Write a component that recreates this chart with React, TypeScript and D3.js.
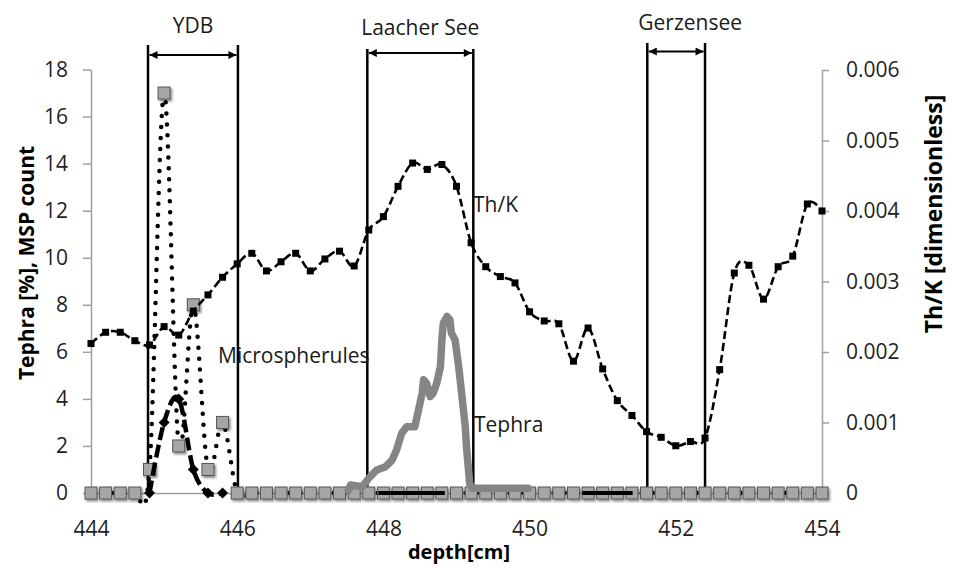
import React, { useEffect, useRef } from 'react';
import * as d3 from 'd3';

// sample depths [cm], one every 0.2 cm
const depths = [
  444.0, 444.2, 444.4, 444.6, 444.8, 445.0, 445.2, 445.4, 445.6, 445.8,
  446.0, 446.2, 446.4, 446.6, 446.8, 447.0, 447.2, 447.4, 447.6, 447.8,
  448.0, 448.2, 448.4, 448.6, 448.8, 449.0, 449.2, 449.4, 449.6, 449.8,
  450.0, 450.2, 450.4, 450.6, 450.8, 451.0, 451.2, 451.4, 451.6, 451.8,
  452.0, 452.2, 452.4, 452.6, 452.8, 453.0, 453.2, 453.4, 453.6, 453.8,
  454.0,
];

// microspherule count (grey squares, dotted line)
const mspCount = [
  0, 0, 0, 0, 1, 17, 2, 8, 1, 3,
  0, 0, 0, 0, 0, 0, 0, 0, 0, 0,
  0, 0, 0, 0, 0, 0, 0, 0, 0, 0,
  0, 0, 0, 0, 0, 0, 0, 0, 0, 0,
  0, 0, 0, 0, 0, 0, 0, 0, 0, 0,
  0,
];

// Th/K ratio (right axis)
const thk = [
  0.00212, 0.00228, 0.00228, 0.00216, 0.0021, 0.00236, 0.00224, 0.00258, 0.00281, 0.00306,
  0.00325, 0.0034, 0.00315, 0.00328, 0.0034, 0.00315, 0.00332, 0.00343, 0.00322, 0.00373,
  0.00392, 0.00435, 0.00468, 0.00459, 0.00466, 0.00435, 0.00355, 0.00321, 0.00307, 0.00298,
  0.00257, 0.00244, 0.0024, 0.00187, 0.00234, 0.00176, 0.00131, 0.0011, 0.00087, 0.00079,
  0.00067, 0.00073, 0.00078, 0.00175, 0.00312, 0.00323, 0.00275, 0.00321, 0.00336, 0.0041,
  0.004,
];

// second microspherule series (black diamonds, long dash)
const mspDiamondDepths = [444.8, 445.0, 445.2, 445.4, 445.6, 445.8];
const mspDiamond = [0, 3, 4, 1, 0, 0];

// tephra [%]
const tephraDepths = [
  447.52, 447.55, 447.71, 447.82, 447.91, 448.03, 448.12, 448.18, 448.25, 448.32,
  448.43, 448.48, 448.53, 448.55, 448.59, 448.64, 448.68, 448.73, 448.78, 448.8,
  448.82, 448.87, 448.91, 448.93, 448.98, 449.03, 449.07, 449.12, 449.14, 449.18,
  449.21, 449.5, 449.98,
];
const tephraPercent = [
  0.1, 0.34, 0.27, 0.7, 0.98, 1.12, 1.4, 1.83, 2.54, 2.82,
  2.82, 3.53, 4.24, 4.81, 4.67, 4.1, 4.24, 4.67, 5.37, 6.51,
  7.22, 7.5, 7.36, 6.8, 6.51, 5.37, 4.24, 2.82, 1.83, 0.41,
  0.2, 0.2, 0.2,
];

// event intervals
const eventNames = ['YDB', 'Laacher See', 'Gerzensee'];
const eventStart = [444.78, 447.78, 451.61];
const eventEnd = [446.01, 449.23, 452.4];

// black segments on the zero line
const baseSegStart = [447.93, 450.72];
const baseSegEnd = [448.84, 451.41];

const xTicks = [444, 446, 448, 450, 452, 454];
const leftTicks = [0, 2, 4, 6, 8, 10, 12, 14, 16, 18];
const rightTicks = [0, 0.001, 0.002, 0.003, 0.004, 0.005, 0.006];

const FONT = '"Open Sans", sans-serif';

export default function App() {
  const svgRef = useRef<SVGSVGElement | null>(null);

  const width = 957;
  const height = 568;

  useEffect(() => {
    const svg = d3.select(svgRef.current);
    svg.selectAll('*').remove();

    const x = d3.scaleLinear().domain([444, 454]).range([91, 822]);
    const yL = d3.scaleLinear().domain([0, 18]).range([493, 69.5]);
    const yR = d3.scaleLinear().domain([0, 0.006]).range([493, 70]);

    const defs = svg.append('defs');
    defs
      .append('marker')
      .attr('id', 'arrow')
      .attr('viewBox', '0 0 10 10')
      .attr('refX', 10)
      .attr('refY', 5)
      .attr('markerUnits', 'userSpaceOnUse')
      .attr('markerWidth', 9)
      .attr('markerHeight', 8)
      .attr('orient', 'auto-start-reverse')
      .append('path')
      .attr('d', 'M0,0 L10,5 L0,10 z')
      .attr('fill', '#000');
    const shadow = defs
      .append('filter')
      .attr('id', 'shadow')
      .attr('x', '-30%')
      .attr('y', '-30%')
      .attr('width', '170%')
      .attr('height', '170%');
    shadow
      .append('feDropShadow')
      .attr('dx', 1.5)
      .attr('dy', 2)
      .attr('stdDeviation', 1)
      .attr('flood-color', '#000')
      .attr('flood-opacity', 0.45);

    // axes
    const styleAxis = (g: any) => {
      g.select('.domain').attr('stroke', '#a0a0a0').attr('stroke-width', 1.5);
      g.selectAll('.tick line').attr('stroke', '#a0a0a0').attr('stroke-width', 1.5);
      g.selectAll('.tick text')
        .attr('font-family', FONT)
        .attr('font-size', 21)
        .attr('fill', '#1f1f1f');
    };

    svg
      .append('g')
      .attr('transform', 'translate(91,0)')
      .call(
        d3.axisLeft(yL).tickValues(leftTicks).tickSizeInner(8).tickSizeOuter(0).tickPadding(15),
      )
      .call(styleAxis);

    svg
      .append('g')
      .attr('transform', 'translate(822,0)')
      .call(
        d3
          .axisRight(yR)
          .tickValues(rightTicks)
          .tickSizeInner(7)
          .tickSizeOuter(0)
          .tickPadding(17)
          .tickFormat((d: any) => (d === 0 ? '0' : d3.format('.3f')(d))),
      )
      .call(styleAxis);

    svg
      .append('g')
      .attr('transform', 'translate(0,493)')
      .call(
        d3
          .axisBottom(x)
          .tickValues(xTicks)
          .tickSize(0)
          .tickPadding(28)
          .tickFormat(d3.format('d') as any),
      )
      .call(styleAxis);

    // axis titles
    svg
      .append('text')
      .attr('transform', 'translate(34,263) rotate(-90)')
      .attr('text-anchor', 'middle')
      .attr('font-family', FONT)
      .attr('font-weight', 'bold')
      .attr('font-size', 21)
      .text('Tephra [%], MSP count');
    svg
      .append('text')
      .attr('transform', 'translate(942,214) rotate(-90)')
      .attr('text-anchor', 'middle')
      .attr('font-family', FONT)
      .attr('font-weight', 'bold')
      .attr('font-size', 23)
      .text('Th/K [dimensionless]');
    svg
      .append('text')
      .attr('x', 459)
      .attr('y', 559)
      .attr('text-anchor', 'middle')
      .attr('font-family', FONT)
      .attr('font-weight', 'bold')
      .attr('font-size', 20)
      .text('depth[cm]');

    // event brackets
    const eventLayout = [
      { top: 45, arrow: 55, label: 33, dx: 0 },
      { top: 49, arrow: 53, label: 35, dx: 0 },
      { top: 43, arrow: 51.5, label: 30, dx: 14 },
    ];
    const ev = svg.append('g');
    eventNames.forEach((name, i) => {
      const x0 = x(eventStart[i]);
      const x1 = x(eventEnd[i]);
      const lay = eventLayout[i];
      [x0, x1].forEach((xx) => {
        ev.append('line')
          .attr('x1', xx)
          .attr('x2', xx)
          .attr('y1', lay.top)
          .attr('y2', yL(0))
          .attr('stroke', '#000')
          .attr('stroke-width', 2.5);
      });
      ev.append('line')
        .attr('x1', x0 + 1.5)
        .attr('x2', x1 - 1.5)
        .attr('y1', lay.arrow)
        .attr('y2', lay.arrow)
        .attr('stroke', '#000')
        .attr('stroke-width', 2)
        .attr('marker-start', 'url(#arrow)')
        .attr('marker-end', 'url(#arrow)');
      ev.append('text')
        .attr('x', (x0 + x1) / 2 + lay.dx)
        .attr('y', lay.label)
        .attr('text-anchor', 'middle')
        .attr('font-family', FONT)
        .attr('font-size', 21)
        .attr('fill', '#1a1a1a')
        .text(name);
    });

    const smooth = d3.curveCardinal.tension(0);

    // microspherules dotted
    const mspPts = depths.map((d, i) => [d, mspCount[i]] as [number, number]);
    svg
      .append('path')
      .datum(mspPts)
      .attr('fill', 'none')
      .attr('stroke', '#000')
      .attr('stroke-width', 4.5)
      .attr('stroke-linecap', 'round')
      .attr('stroke-dasharray', '0 11')
      .attr(
        'd',
        d3
          .line<[number, number]>()
          .curve(smooth)
          .x((d) => x(d[0]))
          .y((d) => yL(d[1])),
      );

    svg
      .append('g')
      .attr('filter', 'url(#shadow)')
      .selectAll('rect')
      .data(mspPts)
      .join('rect')
      .attr('x', (d) => x(d[0]) - 6)
      .attr('y', (d) => yL(d[1]) - 6)
      .attr('width', 12)
      .attr('height', 12)
      .attr('fill', '#a6a6a6')
      .attr('stroke', '#555')
      .attr('stroke-width', 1);

    // tephra
    const tephraPts = tephraDepths.map((d, i) => [d, tephraPercent[i]] as [number, number]);
    svg
      .append('path')
      .datum(tephraPts)
      .attr('fill', 'none')
      .attr('stroke', '#858585')
      .attr('stroke-width', 7.5)
      .attr('stroke-linejoin', 'round')
      .attr('stroke-linecap', 'round')
      .attr(
        'd',
        d3
          .line<[number, number]>()
          .x((d) => x(d[0]))
          .y((d) => yL(d[1])),
      );

    // diamonds series
    const diaPts = mspDiamondDepths.map((d, i) => [d, mspDiamond[i]] as [number, number]);
    svg
      .append('path')
      .datum(diaPts)
      .attr('fill', 'none')
      .attr('stroke', '#000')
      .attr('stroke-width', 4.5)
      .attr('stroke-dasharray', '13 5')
      .attr(
        'd',
        d3
          .line<[number, number]>()
          .curve(smooth)
          .x((d) => x(d[0]))
          .y((d) => yL(d[1])),
      );
    svg
      .append('g')
      .selectAll('path')
      .data(diaPts)
      .join('path')
      .attr('transform', (d) => `translate(${x(d[0])},${yL(d[1])})`)
      .attr('d', 'M0,-5.5 L5.5,0 L0,5.5 L-5.5,0 Z')
      .attr('fill', '#000');

    // Th/K
    const thkPts = depths.map((d, i) => [d, thk[i]] as [number, number]);
    svg
      .append('path')
      .datum(thkPts)
      .attr('fill', 'none')
      .attr('stroke', '#000')
      .attr('stroke-width', 2.6)
      .attr('stroke-dasharray', '8 4')
      .attr(
        'd',
        d3
          .line<[number, number]>()
          .curve(smooth)
          .x((d) => x(d[0]))
          .y((d) => yR(d[1])),
      );
    svg
      .append('g')
      .selectAll('rect')
      .data(thkPts)
      .join('rect')
      .attr('x', (d) => x(d[0]) - 3.5)
      .attr('y', (d) => yR(d[1]) - 3.5)
      .attr('width', 7)
      .attr('height', 7)
      .attr('fill', '#000');

    // black segments on zero line
    svg
      .append('g')
      .selectAll('line')
      .data(baseSegStart.map((s, i) => [s, baseSegEnd[i]]))
      .join('line')
      .attr('x1', (d) => x(d[0]))
      .attr('x2', (d) => x(d[1]))
      .attr('y1', yL(0))
      .attr('y2', yL(0))
      .attr('stroke', '#000')
      .attr('stroke-width', 4);

    // series labels
    const labels = [
      { t: 'Th/K', x: 473, y: 212 },
      { t: 'Microspherules', x: 218, y: 363 },
      { t: 'Tephra', x: 474, y: 432 },
    ];
    svg
      .append('g')
      .selectAll('text')
      .data(labels)
      .join('text')
      .attr('x', (d) => d.x)
      .attr('y', (d) => d.y)
      .attr('font-family', FONT)
      .attr('font-size', 21)
      .attr('fill', '#1a1a1a')
      .text((d) => d.t);
  });

  return (
    <svg
      ref={svgRef}
      width={width}
      height={height}
      style={{ position: 'absolute', left: 0, top: 0, background: '#fff' }}
    ></svg>
  );
}
